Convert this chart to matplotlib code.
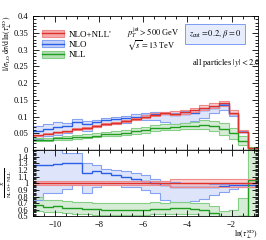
import numpy as np
import matplotlib
matplotlib.use("Agg")
import matplotlib.pyplot as plt
from matplotlib.patches import Patch
from matplotlib.lines import Line2D
from matplotlib.ticker import MultipleLocator, FuncFormatter

plt.rcParams['font.family'] = 'serif'
plt.rcParams['font.serif'] = ['Liberation Serif', 'DejaVu Serif']
plt.rcParams['mathtext.fontset'] = 'stix'

# bin edges in ln(tau_perp^SD)
edges = np.linspace(-11, -0.8, 24)

# NLO+NLL'
nlonll = [0.044, 0.048, 0.053, 0.056, 0.063, 0.066, 0.071, 0.078, 0.081, 0.086, 0.093, 0.100,
          0.106, 0.110, 0.109, 0.114, 0.119, 0.126, 0.132, 0.139, 0.112, 0.055, 0.006]
nlonll_lo = [0.0427, 0.0466, 0.0514, 0.0543, 0.0611, 0.0640, 0.0689, 0.0757, 0.0786, 0.0834, 0.0902, 0.0970,
             0.1028, 0.1067, 0.1036, 0.1083, 0.1131, 0.1197, 0.1254, 0.1321, 0.1064, 0.0523, 0.0057]
nlonll_hi = [0.0458, 0.0499, 0.0551, 0.0582, 0.0655, 0.0686, 0.0738, 0.0811, 0.0842, 0.0894, 0.0967, 0.1040,
             0.1102, 0.1144, 0.1155, 0.1208, 0.1261, 0.1336, 0.1399, 0.1473, 0.1187, 0.0583, 0.0064]

# NLO
nlo = [0.0559, 0.0614, 0.0684, 0.0728, 0.0825, 0.0766, 0.0838, 0.0905, 0.0915, 0.0946, 0.0995, 0.1040,
       0.1071, 0.1067, 0.1036, 0.1072, 0.1119, 0.1197, 0.1254, 0.1334, 0.1086, 0.0539, 0.0058]
nlo_lo = [0.0330, 0.0408, 0.0451, 0.0515, 0.0617, 0.0561, 0.0675, 0.0757, 0.0786, 0.0817, 0.0884, 0.0900,
          0.0901, 0.0825, 0.0785, 0.0821, 0.0869, 0.0970, 0.1096, 0.1209, 0.1019, 0.0523, 0.0057]
nlo_hi = [0.0726, 0.0778, 0.0848, 0.0812, 0.0914, 0.0858, 0.0902, 0.0952, 0.0972, 0.1015, 0.1079, 0.1120,
          0.1134, 0.1133, 0.1112, 0.1151, 0.1190, 0.1260, 0.1307, 0.1376, 0.1120, 0.0556, 0.0060]

# NLL
nll = [0.0295, 0.0312, 0.0345, 0.0353, 0.0391, 0.0403, 0.0433, 0.0468, 0.0486, 0.0516, 0.0558, 0.0600,
       0.0647, 0.0671, 0.0676, 0.0707, 0.0726, 0.0756, 0.0726, 0.0626, 0.0504, 0.0275, 0.0063]
nll_lo = [0.0255, 0.0274, 0.0302, 0.0308, 0.0340, 0.0350, 0.0376, 0.0406, 0.0421, 0.0447, 0.0484, 0.0520,
          0.0562, 0.0583, 0.0589, 0.0616, 0.0631, 0.0630, 0.0554, 0.0445, 0.0336, 0.0138, 0.0018]
nll_hi = [0.0348, 0.0360, 0.0398, 0.0409, 0.0454, 0.0469, 0.0504, 0.0546, 0.0567, 0.0602, 0.0651, 0.0700,
          0.0753, 0.0781, 0.0785, 0.0821, 0.0845, 0.0882, 0.0871, 0.0820, 0.0672, 0.0429, 0.0096]

labels = ["NLO+NLL'", "NLO", "NLL"]
line_colors = ['#e0302a', '#2b5fe8', '#1f9e1f']
fill_colors = ['#f4aaaa', '#c3d1f8', '#b5deb5']
edge_colors = ['#f08a8a', '#86a2f2', '#86cf86']

series = [
    (nlonll, nlonll_lo, nlonll_hi),
    (nlo, nlo_lo, nlo_hi),
    (nll, nll_lo, nll_hi),
]

fig = plt.figure(figsize=(2.66, 2.40), dpi=100)
ax = fig.add_axes([0.124, 0.375, 0.846, 0.558])
axr = fig.add_axes([0.124, 0.098, 0.846, 0.277], sharex=ax)

ref = np.array(nlonll)
order = [1, 2, 0]
for i in order:
    c, lo, hi = [np.array(v) for v in series[i]]
    for a, s in ((ax, 1.0), (axr, ref)):
        a.stairs(hi / s, edges, baseline=lo / s, fill=True, color=fill_colors[i], alpha=0.55, lw=0)
for i in order:
    c, lo, hi = [np.array(v) for v in series[i]]
    for a, s in ((ax, 1.0), (axr, ref)):
        a.stairs(hi / s, edges, baseline=None, color=edge_colors[i], lw=0.8)
        a.stairs(lo / s, edges, baseline=None, color=edge_colors[i], lw=0.8)
        a.stairs(c / s, edges, baseline=None, color=line_colors[i], lw=1.0)

ax.set_xlim(-11, -0.8)
ax.set_ylim(0, 0.4)
axr.set_ylim(0.5, 1.5)

fmt = FuncFormatter(lambda v, p: '%g' % round(v, 3))
ax.yaxis.set_major_locator(MultipleLocator(0.05))
ax.yaxis.set_minor_locator(MultipleLocator(0.01))
ax.yaxis.set_major_formatter(fmt)
axr.yaxis.set_major_locator(MultipleLocator(0.1))
axr.yaxis.set_minor_locator(MultipleLocator(0.02))
axr.yaxis.set_major_formatter(FuncFormatter(lambda v, p: '' if v > 1.45 else '%g' % round(v, 2)))
axr.xaxis.set_major_locator(MultipleLocator(2))
axr.xaxis.set_minor_locator(MultipleLocator(0.5))
ax.tick_params(labelbottom=False)

for a in (ax, axr):
    a.tick_params(which='both', direction='in', top=True, right=True, labelsize=6, width=0.6)
    a.tick_params(which='major', length=4.5)
    a.tick_params(which='minor', length=2.2)
    for sp in a.spines.values():
        sp.set_linewidth(0.6)
ax.spines['bottom'].set_linewidth(1.0)

ax.set_ylabel(r'$1/\sigma_{\rm LO}\,{\rm d}\sigma/{\rm d}\,\ln(\tau_\perp^{\rm SD})$', fontsize=5.5, loc='top')
axr.set_ylabel(r"$\frac{X}{\rm NLO+NLL'}$", fontsize=5.5)
axr.set_xlabel(r'$\ln(\tau_\perp^{\rm SD})$', fontsize=5.5, loc='right')
ax.yaxis.set_label_coords(-0.083, 1.0)
axr.yaxis.set_label_coords(-0.083, 0.5)
axr.xaxis.set_label_coords(1.0, -0.165)

handles = [(Patch(facecolor=fill_colors[i], edgecolor=edge_colors[i], lw=0.8),
            Line2D([], [], color=line_colors[i], lw=1.0)) for i in range(3)]
ax.legend(handles, labels, loc='upper left', bbox_to_anchor=(0.01, 0.95), frameon=False,
          fontsize=6.5, handlelength=2.4, handleheight=0.8, labelspacing=0.2, handletextpad=0.5,
          borderpad=0.3)

ax.text(0.42, 0.875, r'$p_T^{\rm jet} > 500$ GeV', transform=ax.transAxes, fontsize=6, va='center')
ax.text(0.42, 0.78, r'$\sqrt{s} = 13$ TeV', transform=ax.transAxes, fontsize=6, va='center')
ax.text(0.81, 0.866, r'$z_{\rm cut} = 0.2,\,\beta = 0$', transform=ax.transAxes, fontsize=6,
        ha='center', va='center',
        bbox=dict(boxstyle='square,pad=0.45', facecolor='#e6ecfc', edgecolor='#7d9cf2', lw=0.7))
ax.text(1.012, 0.657, r'all particles $|y| < 2.6$', transform=ax.transAxes, fontsize=6,
        ha='right', va='center')

fig.savefig('out.png', dpi=100)
